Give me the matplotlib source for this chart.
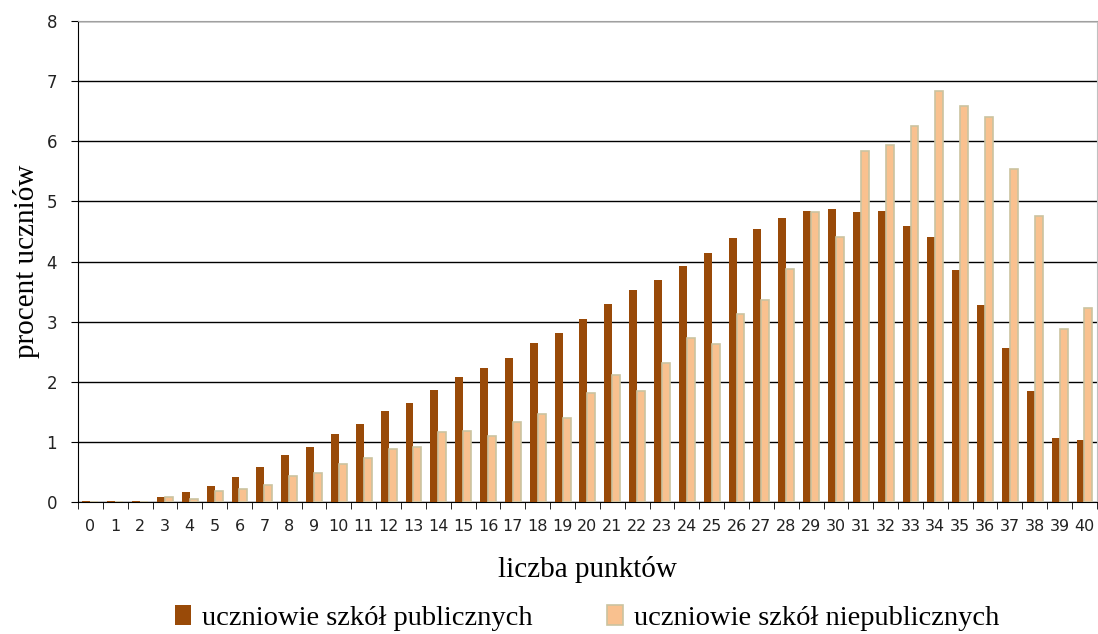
import numpy as np
import matplotlib
matplotlib.use('Agg')
import matplotlib.pyplot as plt

punkty = list(range(41))
publiczne = [0.02, 0.02, 0.02, 0.08, 0.17, 0.27, 0.42, 0.59, 0.78, 0.91,
             1.13, 1.30, 1.51, 1.64, 1.87, 2.08, 2.23, 2.40, 2.64, 2.81,
             3.05, 3.30, 3.52, 3.69, 3.92, 4.14, 4.39, 4.54, 4.73, 4.84,
             4.88, 4.82, 4.84, 4.59, 4.41, 3.86, 3.28, 2.57, 1.85, 1.07, 1.03]
niepubliczne = [0.01, 0.01, 0.01, 0.08, 0.05, 0.18, 0.21, 0.29, 0.44, 0.48,
                0.63, 0.74, 0.88, 0.91, 1.17, 1.19, 1.10, 1.34, 1.46, 1.40,
                1.82, 2.12, 1.84, 2.32, 2.73, 2.63, 3.12, 3.36, 3.87, 4.82,
                4.41, 5.84, 5.94, 6.26, 6.84, 6.58, 6.41, 5.54, 4.75, 2.87, 3.23]

serif = 'Liberation Serif'

fig = plt.figure(figsize=(10.98, 6.34), dpi=100)
ax = fig.add_axes([0.071, 0.208, 0.928, 0.759])

x = np.arange(len(punkty))
w = 0.32
ax.bar(x - w / 2, publiczne, w, color='#994a08', label='uczniowie szkół publicznych', zorder=3)
ax.bar(x + w / 2, niepubliczne, w, color='#f9c18f', edgecolor='#cbc3a0', linewidth=1.2,
       label='uczniowie szkół niepublicznych', zorder=3)

ax.set_xlim(-0.5, 40.5)
ax.set_ylim(0, 8)
ax.set_yticks(range(9))
ax.yaxis.grid(True, color='black', linewidth=1, zorder=0)

ax.set_xticks(x)
ax.set_xticklabels([str(p) for p in punkty])
ax.set_xticks(np.arange(-0.5, 41, 1), minor=True)
ax.tick_params(axis='x', which='major', length=0, pad=12, labelsize=11.5, labelcolor='#222222')
ax.tick_params(axis='x', which='minor', length=5, direction='out', color='black')
ax.tick_params(axis='y', length=5, direction='out', labelsize=12, labelcolor='#222222', pad=10)

ax.spines['top'].set_color('#a0a0a0')
ax.spines['right'].set_color('#c0c0c0')
ax.spines['left'].set_color('black')
ax.spines['bottom'].set_color('black')

ax.set_xlabel('liczba punktów', fontfamily=serif, fontsize=21, labelpad=16)
ax.set_ylabel('procent uczniów', fontfamily=serif, fontsize=21, labelpad=5)

fig.legend(loc='lower center', bbox_to_anchor=(0.535, -0.035), ncol=2, frameon=False,
           prop={'family': serif, 'size': 20.5}, handlelength=0.55, handleheight=0.7,
           handletextpad=0.4, columnspacing=2.6)

plt.savefig('out.png', dpi=100)
